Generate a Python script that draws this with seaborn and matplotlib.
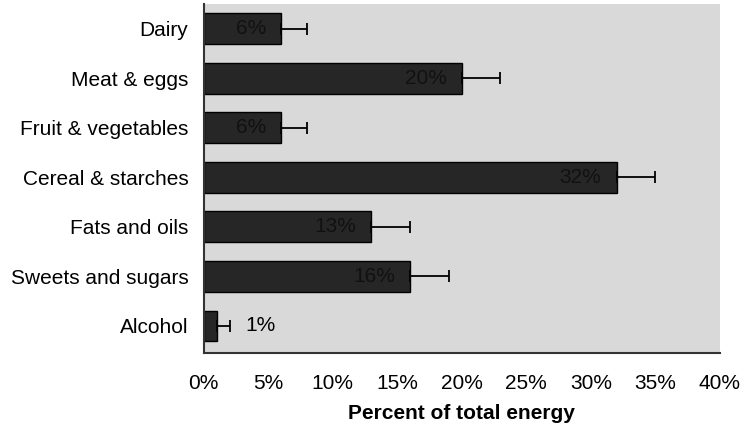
import numpy as np
import pandas as pd
import matplotlib
matplotlib.use("Agg")
import matplotlib.pyplot as plt
import seaborn as sns

# values
categories = ["Dairy", "Meat & eggs", "Fruit & vegetables", "Cereal & starches",
              "Fats and oils", "Sweets and sugars", "Alcohol"]
percent = [6, 20, 6, 32, 13, 16, 1]
err_upper = [2, 3, 2, 3, 3, 3, 1]
xticks = [0, 5, 10, 15, 20, 25, 30, 35, 40]

df = pd.DataFrame({"category": categories, "percent": percent})

sns.set_theme(style="white", rc={"text.color": "black", "axes.labelcolor": "black",
                                 "xtick.color": "black", "ytick.color": "black"})
plt.rcParams["font.family"] = ["Liberation Sans", "DejaVu Sans"]

fig = plt.figure(figsize=(7.49, 4.25), dpi=100)
ax = fig.add_axes([0.272, 0.169, 0.689, 0.822])
ax.set_facecolor("#d9d9d9")

sns.barplot(data=df, x="percent", y="category", orient="h", color="#262626",
            saturation=1, width=0.62, edgecolor="black", linewidth=1, ax=ax)

# one-sided error bars (right side only)
ypos = np.arange(len(categories))
ax.errorbar(percent, ypos, xerr=[np.zeros(len(err_upper)), err_upper],
            fmt="none", ecolor="black", elinewidth=1.3, capsize=4, capthick=1.3)

# value labels: inside the bar near its end, outside for tiny bars
for y, v in zip(ypos, percent):
    if v >= 5:
        ax.annotate(f"{v}%", (v, y), xytext=(-11, 0), textcoords="offset points",
                    ha="right", va="center", fontsize=15, color="#111111")
    else:
        ax.annotate(f"{v}%", (v, y), xytext=(21, 0), textcoords="offset points",
                    ha="left", va="center", fontsize=15, color="black")

ax.set_xlim(0, 40)
ax.set_ylim(len(categories) - 0.5 + 0.05, -0.5)
ax.set_xticks(xticks)
ax.set_xticklabels([f"{t}%" for t in xticks], fontsize=15)
ax.tick_params(axis="y", labelsize=15, length=0, pad=11)
ax.tick_params(axis="x", length=0, pad=15)
ax.set_ylabel("")
ax.set_xlabel("Percent of total energy", fontsize=15, fontweight="bold", labelpad=8)

for side in ["top", "right"]:
    ax.spines[side].set_visible(False)
for side in ["left", "bottom"]:
    ax.spines[side].set_color("#333333")
    ax.spines[side].set_linewidth(1.5)

fig.savefig("out.png", dpi=100)
